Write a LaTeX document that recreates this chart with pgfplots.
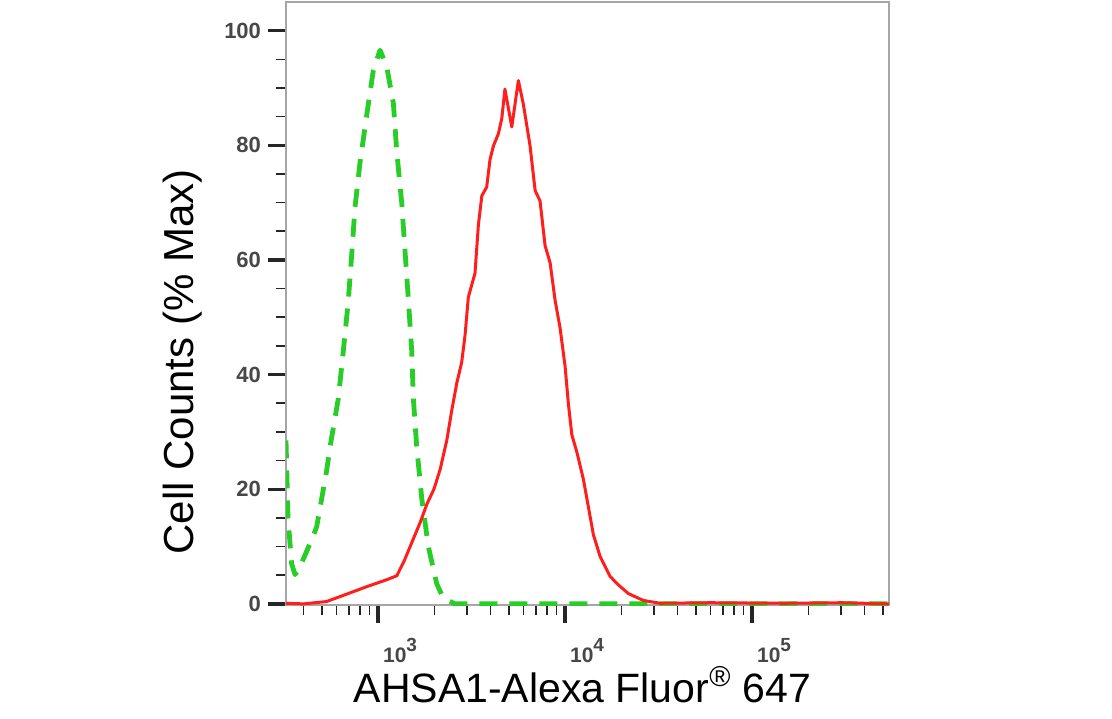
\documentclass[border=0pt]{standalone}
\usepackage{fontspec}
\setmainfont{Liberation Sans}
\usepackage{pgfplots}
\pgfplotsset{compat=1.18}
\definecolor{histred}{RGB}{255,30,30}
\definecolor{histgreen}{RGB}{40,205,40}
\newcommand{\decade}[1]{10\raisebox{0.55em}{\fontsize{9.5}{11}\selectfont #1}}
\begin{document}
\begin{tikzpicture}
\begin{axis}[
    at={(0,0)}, anchor=south west,
    scale only axis,
    width=301.5pt, height=301.5pt,
    xmode=log,
    xmin=322, xmax=540000,
    ymin=-0.2, ymax=105,
    xtick={1000,10000,100000},
    xticklabels={\decade{3},\decade{4},\decade{5}},
    minor xtick={400,500,600,700,800,900,2000,3000,4000,5000,6000,7000,8000,9000,
        20000,30000,40000,50000,60000,70000,80000,90000,200000,300000,400000,500000},
    ytick={0,20,40,60,80,100},
    minor y tick num=3,
    xtick pos=bottom, ytick pos=left,
    tick align=outside,
    major tick length=9pt,
    minor tick length=5pt,
    major tick style={black!85, line width=1.7pt},
    minor tick style={black!85, line width=0.8pt},
    axis line style={draw=gray!70, line width=0.9pt},
    /pgf/number format/assume math mode=true,
    yticklabel style={font=\fontsize{11}{13}\selectfont\bfseries, text=black!72},
    xticklabel style={font=\fontsize{10.5}{13}\selectfont\bfseries, text=black!72, xshift=11pt, yshift=-4pt},
    xlabel={AHSA1-Alexa Fluor\textsuperscript{\textregistered} 647},
    ylabel={Cell Counts (\% Max)},
    xlabel style={font=\fontsize{20.5}{24}\selectfont, at={(axis description cs:0.4917,-0.1609)}, anchor=base},
    ylabel style={font=\fontsize{21}{24}\selectfont, at={(axis description cs:-0.1526,0.403)}, anchor=base},
]
% isotype control (green, dashed)
\addplot[histgreen, line width=2.4pt, dash pattern=on 9pt off 6pt, line join=round] coordinates {
    (322,28.5) (330,15) (345,7) (360,5.1) (383,6.5) (451,11.9) (470,13.5) (510,20.0)
    (532,23.4) (554,27.4) (613,35.8) (652,44.1) (693,52.8) (723,60.9) (753,69.2)
    (801,77.0) (871,85.4) (944,93.1) (1025,96.6) (1113,93.7) (1208,87.3) (1259,78.9)
    (1339,69.9) (1394,61.5) (1453,53.1) (1514,44.1) (1545,35.8) (1610,27.4) (1713,18.4)
    (1858,10.0) (2060,3.5) (2235,1.0) (2580,0) (10000,0) (100000,0) (540000,0)
};
% AHSA1 stained (red)
\addplot[histred, line width=1.5pt, line join=round] coordinates {
    (322,0.1) (400,0.0) (530,0.4) (680,1.7) (870,3.0) (1110,4.2) (1260,4.9) (1380,7.5)
    (1520,10.8) (1680,14.2) (1830,17.5) (1990,20.0) (2150,23.5) (2330,28.5) (2480,33.8)
    (2640,38.6) (2800,42.1) (2920,46.9) (3040,53.5) (3300,57.7) (3440,66.1) (3590,71.2)
    (3810,72.7) (3970,77.5) (4140,79.9) (4400,82.0) (4590,84.7) (4770,89.8) (5190,83.2)
    (5630,91.3) (5990,87.1) (6500,79.9) (6920,72.1) (7350,70.3) (7820,62.5) (8320,59.5)
    (8850,52.9) (9400,48.2) (10000,41.5) (10420,34.9) (10870,29.5) (11560,26.5)
    (12540,21.7) (13330,16.9) (14170,12.1) (15390,8.3) (17400,4.8) (19300,3.3)
    (21800,1.8) (26200,0.6) (32200,0.1) (60000,0.2) (150000,0.1) (300000,0.2) (540000,0)
};
\end{axis}
\pgfresetboundingbox
\path (-143pt,-56.5pt) rectangle (413pt,302.5pt);
\end{tikzpicture}
\end{document}
